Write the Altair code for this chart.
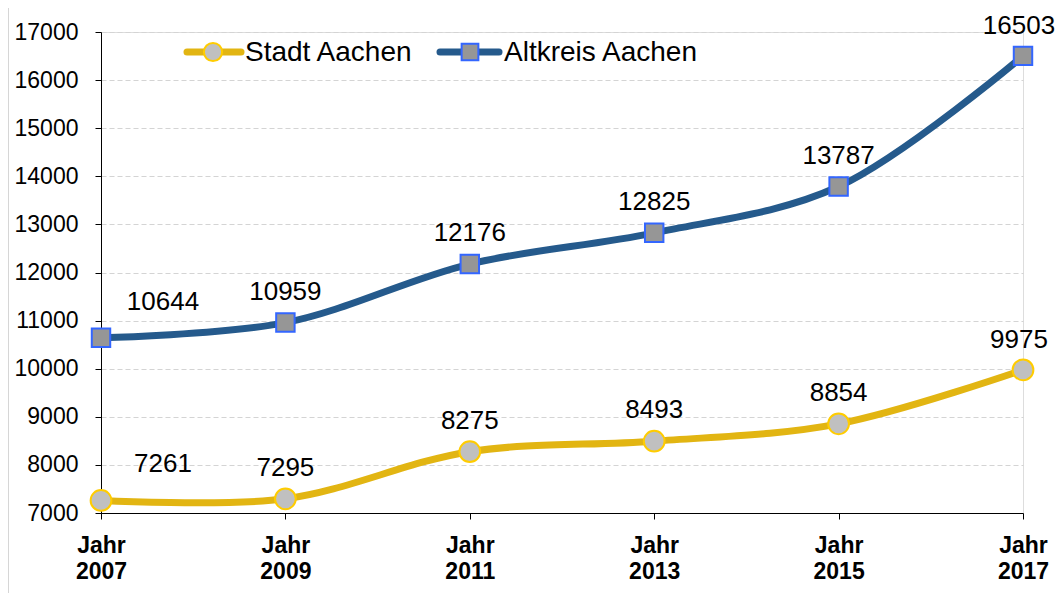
import altair as alt
import pandas as pd

jahre = [2007, 2009, 2011, 2013, 2015, 2017]
stadt = [7261, 7295, 8275, 8493, 8854, 9975]
altkreis = [10644, 10959, 12176, 12825, 13787, 16503]
serien = ["Stadt Aachen", "Altkreis Aachen"]
y_ticks = list(range(7000, 17001, 1000))

df = pd.DataFrame({
    "Jahr": jahre * 2,
    "Wert": stadt + altkreis,
    "Serie": [serien[0]] * len(jahre) + [serien[1]] * len(jahre),
})

FONT = "Liberation Sans"
GOLD = "#E2B512"
BLUE = "#255A8C"

base = alt.Chart(df)

x = alt.X("Jahr:Q",
          scale=alt.Scale(domain=[2007, 2017], nice=False, zero=False),
          axis=alt.Axis(values=jahre, title=None, grid=False,
                        labelExpr="['Jahr', datum.value]",
                        labelFont=FONT, labelFontSize=23, labelFontWeight="bold",
                        labelColor="black", labelLineHeight=26, labelPadding=15,
                        tickSize=6, tickColor="black", domainColor="black",
                        labelBaseline="top", labelFlush=False))
y = alt.Y("Wert:Q",
          scale=alt.Scale(domain=[7000, 17000], nice=False, zero=False),
          axis=alt.Axis(values=y_ticks, title=None, format="d",
                        labelFont=FONT, labelFontSize=23, labelColor="black",
                        labelPadding=17, tickSize=6, tickColor="black",
                        domainColor="black", grid=True, gridColor="#D4D4D4",
                        gridDash=[5, 3], gridWidth=1.2))
color = alt.Color("Serie:N", scale=alt.Scale(domain=serien, range=[GOLD, BLUE]),
                  legend=None)

lines = base.mark_line(interpolate="catmull-rom", strokeWidth=7, strokeCap="round").encode(
    x=x, y=y, color=color, detail="Serie:N")

pts_stadt = base.transform_filter(alt.datum.Serie == serien[0]).mark_point(
    shape="circle", filled=True, fill="#C0C0C0", stroke="#FFCC00",
    strokeWidth=2, size=430, opacity=1).encode(x=x, y=y)
pts_alt = base.transform_filter(alt.datum.Serie == serien[1]).mark_point(
    shape="square", filled=True, fill="#969696", stroke="#3366FF",
    strokeWidth=2, size=340, opacity=1).encode(x=x, y=y)

txt_first = base.transform_filter(alt.datum.Jahr == 2007).mark_text(
    font=FONT, fontSize=26, color="black", dx=62, dy=-36, baseline="middle").encode(
    x=x, y=y, text="Wert:Q")
txt_last = base.transform_filter(alt.datum.Jahr == 2017).mark_text(
    font=FONT, fontSize=26, color="black", dx=-4, dy=-30, baseline="middle").encode(
    x=x, y=y, text="Wert:Q")
txt_rest = base.transform_filter((alt.datum.Jahr != 2007) & (alt.datum.Jahr != 2017)).mark_text(
    font=FONT, fontSize=26, color="black", dy=-31, baseline="middle").encode(
    x=x, y=y, text="Wert:Q")

one = alt.Data(values=[{"k": 0}])

# legend (drawn manually to show line + marker)
leg_line1 = alt.Chart(one).mark_rule(color=GOLD, strokeWidth=7, strokeCap="round").encode(
    x=alt.value(86), x2=alt.value(140), y=alt.value(20))
leg_pt1 = alt.Chart(one).mark_point(shape="circle", filled=True, fill="#C0C0C0",
                                    stroke="#FFCC00", strokeWidth=2, size=330, opacity=1).encode(
    x=alt.value(112), y=alt.value(20))
leg_txt1 = alt.Chart(one).mark_text(font=FONT, fontSize=28, color="black", align="left",
                                    baseline="middle", text=serien[0]).encode(
    x=alt.value(144), y=alt.value(21))
leg_line2 = alt.Chart(one).mark_rule(color=BLUE, strokeWidth=7, strokeCap="round").encode(
    x=alt.value(339), x2=alt.value(398), y=alt.value(20))
leg_pt2 = alt.Chart(one).mark_point(shape="square", filled=True, fill="#969696",
                                    stroke="#3366FF", strokeWidth=2, size=280, opacity=1).encode(
    x=alt.value(369), y=alt.value(20))
leg_txt2 = alt.Chart(one).mark_text(font=FONT, fontSize=28, color="black", align="left",
                                    baseline="middle", text=serien[1]).encode(
    x=alt.value(403), y=alt.value(21))

# outer chart frame (left and top edges)
frame_left = alt.Chart(one).mark_rule(color="#C8C8C8", strokeWidth=1.5).encode(
    x=alt.value(-93), y=alt.value(-28), y2=alt.value(585))
frame_top = alt.Chart(one).mark_rule(color="#C8C8C8", strokeWidth=1.5).encode(
    x=alt.value(-93), x2=alt.value(954), y=alt.value(-28))

chart = alt.layer(
    frame_left, frame_top,
    lines, pts_stadt, pts_alt, txt_first, txt_last, txt_rest,
    leg_line1, leg_pt1, leg_txt1, leg_line2, leg_pt2, leg_txt2,
).properties(
    width=922, height=481,
    autosize=alt.AutoSizeParams(type="none"),
    padding={"left": 93, "top": 24, "right": 32, "bottom": 80},
).configure_view(stroke=None).configure(background="white")

chart.save("out.html", embed_options={"renderer": "svg", "actions": False})
